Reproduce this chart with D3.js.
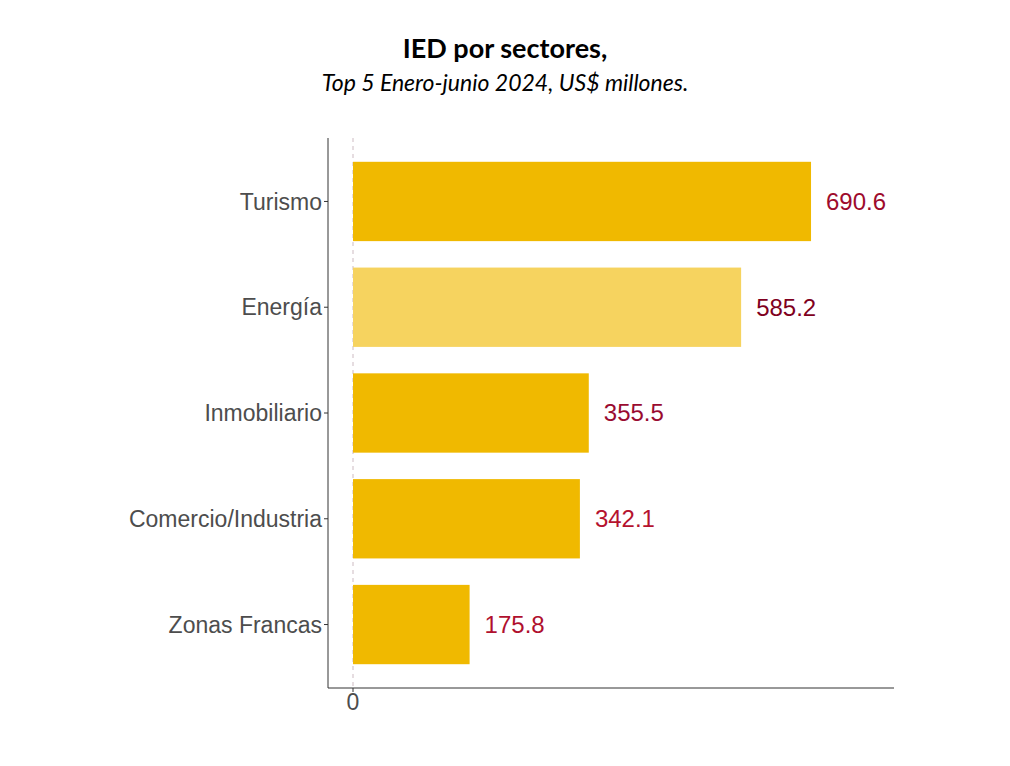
<!DOCTYPE html>
<html><head><meta charset="utf-8">
<script src="https://cdn.jsdelivr.net/npm/d3@7"></script>
<style>body{margin:0;background:#fff}</style>
</head><body>
<script>
const categories = ["Turismo","Energía","Inmobiliario","Comercio/Industria","Zonas Francas"];
const values = [690.6, 585.2, 355.5, 342.1, 175.8];
const barColors = ["#F0B900","#F6D35F","#F0B900","#F0B900","#F0B900"];
const labelColors = ["#9E0B2C","#800020","#9A0B30","#B5122E","#B0102E"];
const xTicks = [0];

(function () {
const W = 1010, H = 766;
const svg = d3.select("body").append("svg").attr("width", W).attr("height", H);
const pLeft = 328, pRight = 894, pTop = 138, pBottom = 688;

const x = d3.scaleLinear().domain([-37.7, 815.7]).range([pLeft, pRight]);
// ggplot-like discrete scale: 0.6 expansion on each side, bar width 0.75
const step = (pBottom - pTop) / 5.2;
const y = d3.scalePoint().domain(categories).range([pTop + 0.6 * step, pBottom - 0.6 * step]);
const bh = step * 0.75;

// title
svg.append("text").attr("x", 505).attr("y", 58).attr("text-anchor", "middle")
  .style("font-family", "Lato").style("font-weight", "bold").style("font-size", "27px").text("IED por sectores,");
svg.append("text").attr("x", 505).attr("y", 91).attr("text-anchor", "middle")
  .style("font-family", "Lato").style("font-style", "italic").style("font-size", "23px").text("Top 5 Enero-junio 2024, US$ millones.");

// dashed zero line
svg.append("line").attr("x1", x(0)).attr("x2", x(0)).attr("y1", pTop).attr("y2", pBottom)
  .attr("stroke", "#CDBBC2").attr("stroke-width", 1).attr("stroke-dasharray", "4,4");

// bars
svg.selectAll("rect.bar").data(categories).enter().append("rect")
  .attr("x", x(0)).attr("y", c => y(c) - bh / 2)
  .attr("width", (c, i) => x(values[i]) - x(0)).attr("height", bh)
  .attr("fill", (c, i) => barColors[i]);

// value labels
svg.selectAll("text.val").data(categories).enter().append("text")
  .attr("x", (c, i) => x(values[i]) + 15).attr("y", c => y(c))
  .attr("dy", "0.35em")
  .style("font-family", "Liberation Sans, Arial").style("font-size", "24px")
  .attr("fill", (c, i) => labelColors[i])
  .text((c, i) => values[i].toFixed(1));

// axes
const gy = svg.append("g");
gy.append("line").attr("x1", pLeft).attr("x2", pLeft).attr("y1", pTop).attr("y2", pBottom).attr("stroke", "#333").attr("stroke-width", 1);
gy.selectAll("line.t").data(categories).enter().append("line")
  .attr("x1", pLeft - 4).attr("x2", pLeft).attr("y1", c => y(c)).attr("y2", c => y(c))
  .attr("stroke", "#333");
gy.selectAll("text").data(categories).enter().append("text")
  .attr("x", pLeft - 6).attr("y", c => y(c)).attr("dy", "0.35em").attr("text-anchor", "end")
  .style("font-family", "Liberation Sans, Arial").style("font-size", "23px").attr("fill", "#4D4D4D")
  .text(c => c);

const gx = svg.append("g");
gx.append("line").attr("x1", pLeft).attr("x2", pRight).attr("y1", pBottom).attr("y2", pBottom).attr("stroke", "#333");
gx.selectAll("line.t").data(xTicks).enter().append("line")
  .attr("x1", d => x(d)).attr("x2", d => x(d)).attr("y1", pBottom).attr("y2", pBottom + 4).attr("stroke", "#333");
gx.selectAll("text").data(xTicks).enter().append("text")
  .attr("x", d => x(d)).attr("y", pBottom + 6).attr("dy", "0.71em").attr("text-anchor", "middle")
  .style("font-family", "Liberation Sans, Arial").style("font-size", "23px").attr("fill", "#4D4D4D")
  .text(d => d);
})();
</script>
</body></html>
